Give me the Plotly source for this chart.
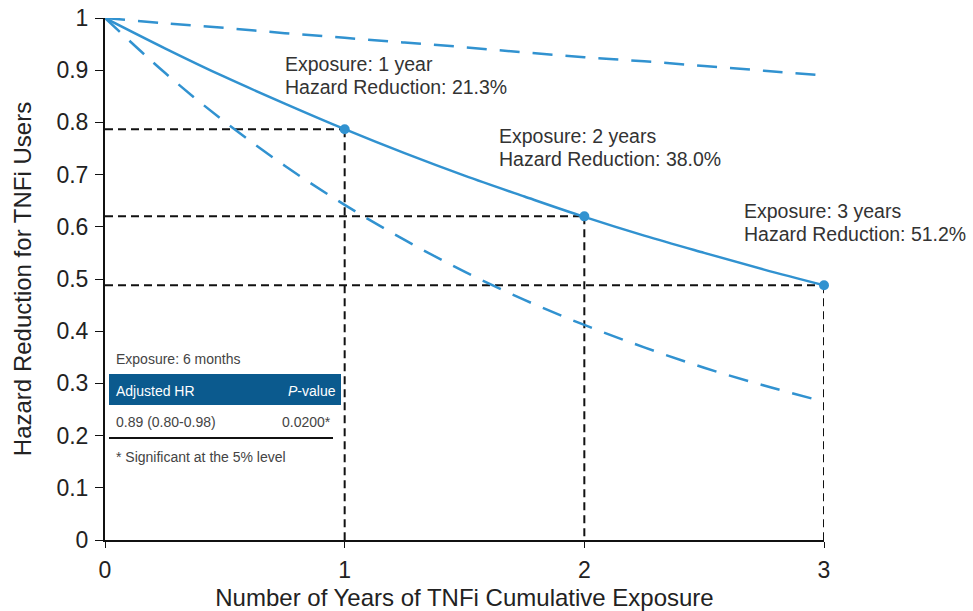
import plotly.graph_objects as go

# ---- data ----
years = [0, 0.25, 0.5, 0.75, 1, 1.25, 1.5, 1.75, 2, 2.25, 2.5, 2.75, 3]
hr_est = [1.0, 0.942, 0.887, 0.836, 0.787, 0.741, 0.698, 0.658, 0.619, 0.583, 0.550, 0.518, 0.488]
hr_upper = [1.0, 0.990, 0.981, 0.971, 0.962, 0.953, 0.944, 0.934, 0.925, 0.917, 0.908, 0.899, 0.890]
hr_lower = [1.0, 0.895, 0.801, 0.717, 0.642, 0.575, 0.514, 0.460, 0.412, 0.369, 0.330, 0.296, 0.265]
point_years = [1, 2, 3]
point_vals = [0.787, 0.620, 0.488]
label_line1 = ["Exposure: 1 year", "Exposure: 2 years", "Exposure: 3 years"]
label_line2 = ["Hazard Reduction: 21.3%", "Hazard Reduction: 38.0%", "Hazard Reduction: 51.2%"]
y_ticks = [0, 0.1, 0.2, 0.3, 0.4, 0.5, 0.6, 0.7, 0.8, 0.9, 1]
y_ticktext = ["0", "0.1", "0.2", "0.3", "0.4", "0.5", "0.6", "0.7", "0.8", "0.9", "1"]
x_ticks = [0, 1, 2, 3]

BLUE = "#3192d0"
NAVY = "#0b5a8e"
FONT = "Liberation Sans, Arial, sans-serif"

# plot-area pixel geometry helpers (for placing text like the original)
PX_L, PX_R, PX_T, PX_B = 105, 824, 18, 540
def dx(px):
    return (px - PX_L) / (PX_R - PX_L) * 3
def dy(py):
    return (PX_B - py) / (PX_B - PX_T)

fig = go.Figure()

# reference dashed guides
for xv, yv in zip(point_years, point_vals):
    fig.add_trace(go.Scatter(x=[0, xv], y=[yv, yv], mode="lines",
                             line=dict(color="#111", width=2, dash="8px,5px"),
                             hoverinfo="skip", showlegend=False))
    fig.add_trace(go.Scatter(x=[xv, xv], y=[yv, 0], mode="lines",
                             line=dict(color="#111", width=2, dash="8px,5px"),
                             hoverinfo="skip", showlegend=False))

fig.add_trace(go.Scatter(x=years, y=hr_upper, mode="lines", line_shape="spline",
                         line=dict(color=BLUE, width=2.5, dash="20px,13px"), showlegend=False))
fig.add_trace(go.Scatter(x=years, y=hr_lower, mode="lines", line_shape="spline",
                         line=dict(color=BLUE, width=2.5, dash="20px,13px"), showlegend=False))
fig.add_trace(go.Scatter(x=years, y=hr_est, mode="lines", line_shape="spline",
                         line=dict(color=BLUE, width=2.5), showlegend=False))
fig.add_trace(go.Scatter(x=point_years, y=point_vals, mode="markers",
                         marker=dict(color=BLUE, size=10), cliponaxis=False, showlegend=False))

label_px = [(283, 64), (497, 136), (742, 211)]
afont = dict(family=FONT, size=19.5, color="#333")
for l1, l2, (px, py) in zip(label_line1, label_line2, label_px):
    fig.add_annotation(x=dx(px), y=dy(py), xref="x", yref="y", text=l1, showarrow=False,
                       xanchor="left", yanchor="middle", font=afont)
    fig.add_annotation(x=dx(px), y=dy(py + 23), xref="x", yref="y", text=l2, showarrow=False,
                       xanchor="left", yanchor="middle", font=afont)

# inset table
fig.add_shape(type="rect", xref="x", yref="y", x0=dx(109), x1=dx(341), y0=dy(405), y1=dy(374),
              fillcolor=NAVY, line=dict(width=0), layer="above")
fig.add_shape(type="line", xref="x", yref="y", x0=dx(109), x1=dx(333), y0=dy(438), y1=dy(438),
              line=dict(color="#111", width=2), layer="above")
tfont = dict(family=FONT, size=14, color="#444")
wfont = dict(family=FONT, size=14, color="white")
fig.add_annotation(x=dx(114), y=dy(359), xref="x", yref="y", text="Exposure: 6 months",
                   showarrow=False, xanchor="left", yanchor="middle", font=tfont)
fig.add_annotation(x=dx(114), y=dy(391), xref="x", yref="y", text="Adjusted HR",
                   showarrow=False, xanchor="left", yanchor="middle", font=wfont)
fig.add_annotation(x=dx(338), y=dy(391), xref="x", yref="y", text="<i>P</i>-value",
                   showarrow=False, xanchor="right", yanchor="middle", font=wfont)
fig.add_annotation(x=dx(114), y=dy(422), xref="x", yref="y", text="0.89 (0.80-0.98)",
                   showarrow=False, xanchor="left", yanchor="middle", font=tfont)
fig.add_annotation(x=dx(333), y=dy(422), xref="x", yref="y", text="0.0200*",
                   showarrow=False, xanchor="right", yanchor="middle", font=tfont)
fig.add_annotation(x=dx(114), y=dy(457), xref="x", yref="y",
                   text="* Significant at the 5% level",
                   showarrow=False, xanchor="left", yanchor="middle", font=tfont)

fig.update_xaxes(range=[0, 3], tickvals=x_ticks, ticks="outside", ticklen=6,
                 tickcolor="#111", linecolor="#111", linewidth=2, showgrid=False,
                 zeroline=False, showline=True, ticklabelstandoff=2, automargin=False,
                 tickfont=dict(family=FONT, size=23, color="#222"),
                 title=dict(text="Number of Years of TNFi Cumulative Exposure",
                            font=dict(family=FONT, size=24, color="#222"), standoff=8))
fig.update_yaxes(range=[0, 1], tickvals=y_ticks, ticktext=y_ticktext,
                 ticks="outside", ticklen=8, tickcolor="#111", linecolor="#111", linewidth=2,
                 showgrid=False, zeroline=False, showline=True, ticklabelstandoff=2,
                 automargin=False,
                 tickfont=dict(family=FONT, size=23, color="#222"),
                 title=dict(text="Hazard Reduction for TNFi Users",
                            font=dict(family=FONT, size=24, color="#222"), standoff=18))

fig.update_layout(width=973, height=611, margin=dict(l=105, r=149, t=18, b=71),
                  plot_bgcolor="white", paper_bgcolor="white")

fig.write_html("out.html")
